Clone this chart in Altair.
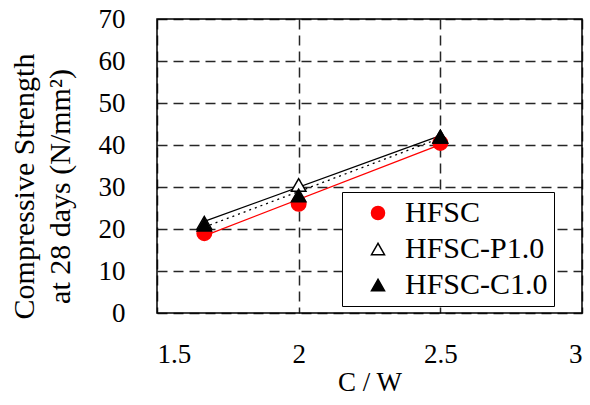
import altair as alt
import pandas as pd

# Cement-to-water ratio (C/W) of each mix
cw = [1.667, 2.0, 2.5]

# Series names, in drawing order
series_names = ["HFSC", "HFSC-P1.0", "HFSC-C1.0"]

# 28-day compressive strength (N/mm2) for each series
hfsc = [19.0, 26.0, 40.5]
hfsc_p = [21.5, 30.5, 42.0]
hfsc_c = [21.0, 28.0, 42.0]

x_ticks = [1.5, 2, 2.5, 3]
y_ticks = [0, 10, 20, 30, 40, 50, 60, 70]

rows = []
for name, vals in zip(series_names, [hfsc, hfsc_p, hfsc_c]):
    for x, y in zip(cw, vals):
        rows.append({"series": name, "cw": x, "fc": y})
df = pd.DataFrame(rows)

FONT = "Liberation Serif"
FS = 27

x_enc = alt.X(
    "cw:Q",
    scale=alt.Scale(domain=[1.5, 3], nice=False, zero=False),
    axis=alt.Axis(values=x_ticks, format="~g", title="C / W", labelPadding=28,
                  titlePadding=2, grid=True),
)
y_enc = alt.Y(
    "fc:Q",
    scale=alt.Scale(domain=[0, 70], nice=False),
    axis=alt.Axis(values=y_ticks, title=["Compressive Strength", "at 28 days (N/mm²)"],
                  labelPadding=32, titlePadding=23, titleLineHeight=36,
                  titleFontSize=30, titleY=167, grid=True),
)

# Least-squares trend line for each series
line_styles = [
    ("HFSC", "red", None),
    ("HFSC-P1.0", "black", None),
    ("HFSC-C1.0", "black", [2, 4]),
]
layers = []
for name, color, dash in line_styles:
    mark_kw = dict(color=color, strokeWidth=1.3)
    if dash:
        mark_kw["strokeDash"] = dash
    layers.append(
        alt.Chart(df)
        .transform_filter(alt.datum.series == name)
        .transform_regression("cw", "fc")
        .mark_line(**mark_kw)
        .encode(x=x_enc, y=y_enc)
    )

leg = alt.Legend(
    title=None, orient="none", legendX=185, legendY=173,
    strokeColor="black", fillColor="white", padding=6, cornerRadius=0,
    labelFont=FONT, labelFontSize=30, labelColor="black",
    symbolSize=170, symbolStrokeWidth=1.5, symbolOffset=15, labelOffset=12,
    rowPadding=6,
)

points = alt.Chart(df).mark_point(size=210, strokeWidth=1.5, opacity=1, fillOpacity=1).encode(
    x=x_enc,
    y=y_enc,
    shape=alt.Shape("series:N", sort=series_names,
                    scale=alt.Scale(domain=series_names,
                                    range=["circle", "triangle-up", "triangle-up"]),
                    legend=leg),
    stroke=alt.Stroke("series:N", sort=series_names,
                      scale=alt.Scale(domain=series_names, range=["red", "black", "black"]),
                      legend=leg),
    fill=alt.Fill("series:N", sort=series_names,
                  scale=alt.Scale(domain=series_names, range=["red", "white", "black"]),
                  legend=leg),
)
layers.append(points)

chart = (
    alt.layer(*layers)
    .properties(
        width=425, height=294, autosize="none",
        padding={"left": 157, "top": 19, "right": 8, "bottom": 92},
        background="white",
    )
    .configure_view(stroke="black", strokeWidth=1.5)
    .configure_axis(
        labelFont=FONT, labelFontSize=FS, labelColor="black",
        titleFont=FONT, titleFontSize=FS, titleFontWeight="normal", titleColor="black",
        tickSize=0, domain=False,
        gridColor="black", gridWidth=1.5, gridDash=[10, 6], gridOpacity=0.85,
    )
)

chart.save("out.html", embed_options={"renderer": "svg", "actions": False})
